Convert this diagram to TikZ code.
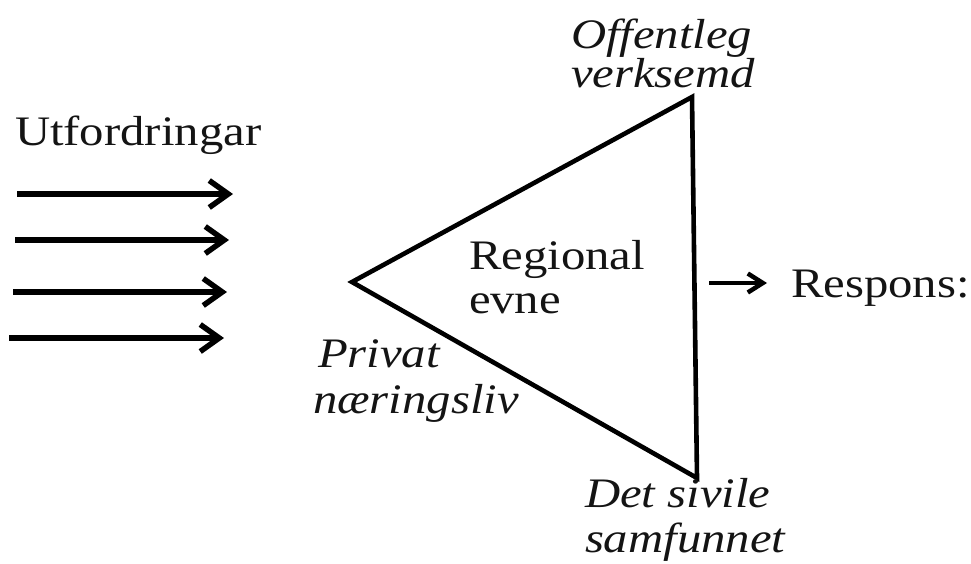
\documentclass[tikz,border=0pt]{standalone}
\usepackage{fontspec}
\setmainfont{Liberation Serif}
\usetikzlibrary{arrows.meta}
\begin{document}
\begin{tikzpicture}[x=1pt,y=-1pt,
  txt/.style={inner sep=0pt,outer sep=0pt,anchor=base west,text=black!92,
    font=\fontsize{42}{50}\selectfont},
  inarrow/.style={line width=5.5pt,-{Straight Barb[length=19pt,width=27pt,line width=5.5pt]}},
  outarrow/.style={line width=4.5pt,-{Straight Barb[length=15pt,width=19pt,line width=4.5pt]}},
  tri/.style={line width=4.6pt,line join=miter}]
\useasboundingbox (0,0) rectangle (971,563);
% input arrows
\coordinate (a1s) at (17,194);  \coordinate (a1e) at (233,194);
\coordinate (a2s) at (15,240);  \coordinate (a2e) at (229,240);
\coordinate (a3s) at (13,292);  \coordinate (a3e) at (227,292);
\coordinate (a4s) at (9,338);   \coordinate (a4e) at (224,338);
\draw[inarrow] (a1s) -- (a1e);
\draw[inarrow] (a2s) -- (a2e);
\draw[inarrow] (a3s) -- (a3e);
\draw[inarrow] (a4s) -- (a4e);
% triangle
\coordinate (L) at (352,282);
\coordinate (T) at (692,97);
\coordinate (B) at (697,478);
\draw[tri] (L) -- (T) -- (B) -- cycle;
% response arrow
\coordinate (rs) at (709,283); \coordinate (re) at (767,283);
\draw[outarrow] (rs) -- (re);
% texts
\node[txt] (utf) at (15,145) {\scalebox{1.16}[1]{Utfordringar}};
\node[txt] (off1) at (571,48) {\scalebox{1.16}[1]{\itshape Offentleg}};
\node[txt] (off2) at (571,87) {\scalebox{1.16}[1]{\itshape verksemd}};
\node[txt] (reg1) at (469,269) {\scalebox{1.16}[1]{Regional}};
\node[txt] (reg2) at (469,313) {\scalebox{1.16}[1]{evne}};
\node[txt] (pri1) at (318,367) {\scalebox{1.16}[1]{\itshape Privat}};
\node[txt] (pri2) at (313,413) {\scalebox{1.16}[1]{\itshape næringsliv}};
\node[txt] (det1) at (585,507) {\scalebox{1.16}[1]{\itshape Det sivile}};
\node[txt] (det2) at (585,552) {\scalebox{1.16}[1]{\itshape samfunnet}};
\node[txt] (resp) at (791,297) {\scalebox{1.16}[1]{Respons:}};
\end{tikzpicture}
\end{document}
